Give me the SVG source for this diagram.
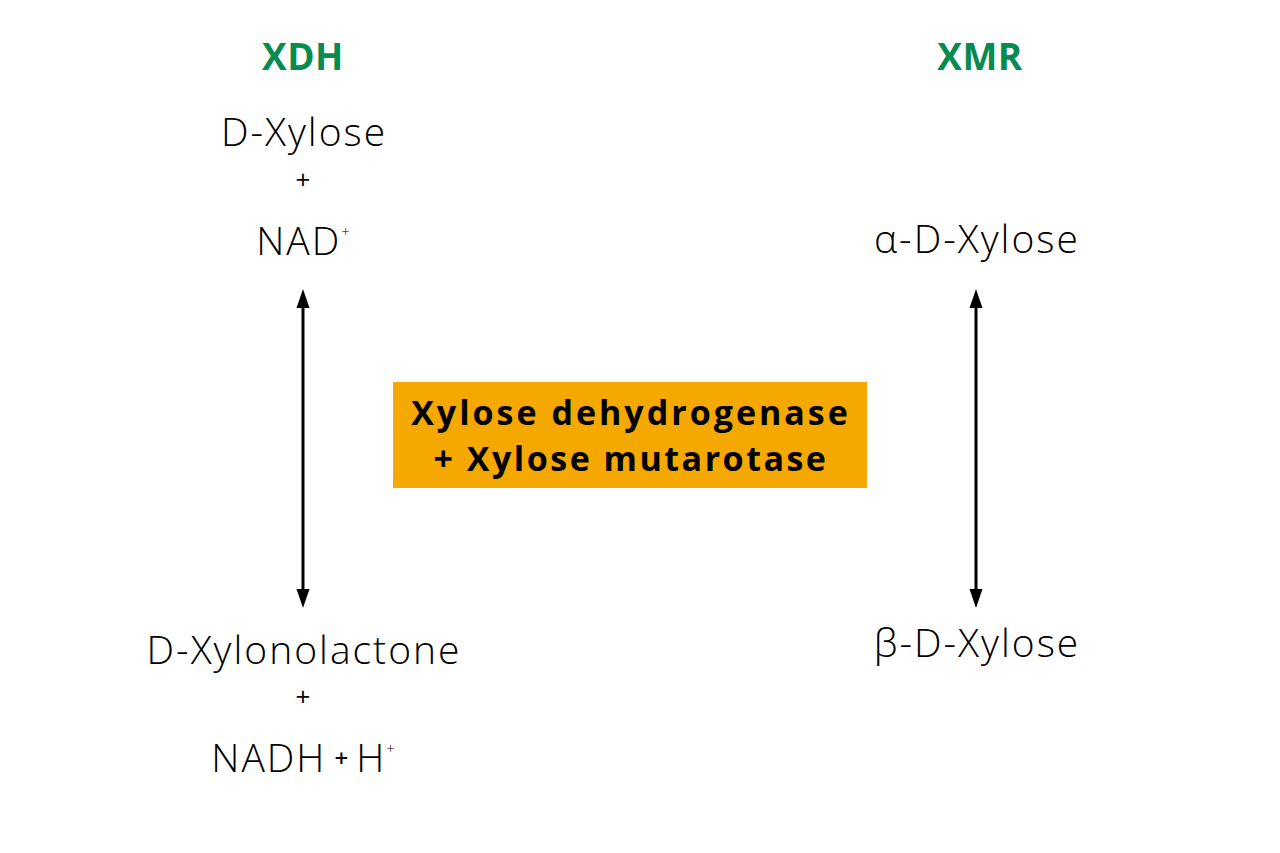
<svg xmlns="http://www.w3.org/2000/svg" width="1280" height="853" viewBox="0 0 1280 853">
<style>
.t{font-family:"Open Sans","Liberation Sans",sans-serif;font-weight:300;font-size:39px;letter-spacing:2px;fill:#000;text-anchor:middle}
.p{font-family:"Open Sans","Liberation Sans",sans-serif;font-weight:400;font-size:26px;fill:#000;text-anchor:middle}
.h{font-family:"Open Sans","Liberation Sans",sans-serif;font-weight:700;font-size:37px;letter-spacing:0.5px;fill:#078B50;text-anchor:middle}
.b{font-family:"Open Sans","Liberation Sans",sans-serif;font-weight:700;font-size:34px;letter-spacing:3px;fill:#000;text-anchor:middle}
.sup{font-size:15px;letter-spacing:0}
.mid{font-size:24px;font-weight:600;letter-spacing:0}
</style>
<rect width="1280" height="853" fill="#fff"/>
<g id="xdh"><text class="h" x="303" y="70">XDH</text></g>
<g id="xmr"><text class="h" x="980" y="70">XMR</text></g>
<g id="substrates">
<text class="t" x="304" y="146">D-Xylose</text>
<text class="p" x="303" y="189">+</text>
<text class="t" x="303" y="255">NAD<tspan class="sup" dy="-18">+</tspan></text>
</g>
<g id="products">
<text class="t" x="304" y="664">D-Xylonolactone</text>
<text class="p" x="303" y="706">+</text>
<text class="t" x="303" y="772">NADH<tspan class="mid" dx="8" dy="-5">+</tspan><tspan dx="8" dy="5">H</tspan><tspan class="sup" dy="-18">+</tspan></text>
</g>
<g id="alpha"><text class="t" x="977" y="253">α-D-Xylose</text></g>
<g id="beta"><text class="t" x="977" y="657">β-D-Xylose</text></g>
<g id="enzyme">
<rect x="393" y="382" width="474" height="106" fill="#F5A800"/>
<text class="b" x="631" y="425">Xylose dehydrogenase</text>
<text class="b" x="631" y="471" style="letter-spacing:2.5px">+ Xylose mutarotase</text>
</g>
<g id="connectors" fill="#000">
<g id="c1">
<line x1="303" y1="300" x2="303" y2="597" stroke="#000" stroke-width="3"/>
<polygon points="303,289 309.5,308 296.5,308"/>
<polygon points="303,608 309.5,589 296.5,589"/>
</g>
<g id="c2">
<line x1="976" y1="300" x2="976" y2="597" stroke="#000" stroke-width="3"/>
<polygon points="976,289 982.5,308 969.5,308"/>
<polygon points="976,608 982.5,589 969.5,589"/>
</g>
</g>
</svg>
